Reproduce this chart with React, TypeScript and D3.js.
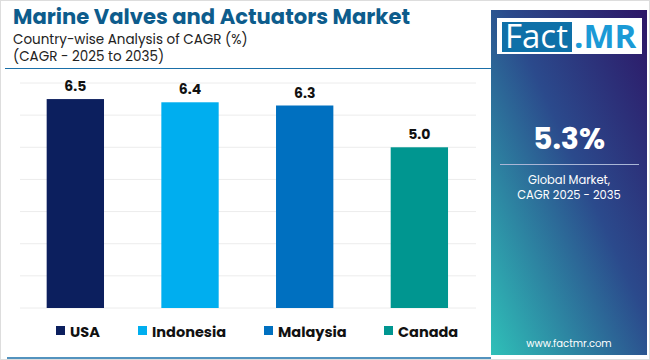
import React from "react";
import * as d3 from "d3";

const categories = ["USA", "Indonesia", "Malaysia", "Canada"];
const values = [6.5, 6.4, 6.3, 5.0];
const colors = ["#0c1f5e", "#00aeef", "#0070c0", "#009690"];
const yTicks = [0, 1, 2, 3, 4, 5, 6, 7];
const titleText = "Marine Valves and Actuators Market";
const subtitle1 = "Country-wise Analysis of CAGR (%)";
const subtitle2 = "(CAGR - 2025 to 2035)";
const globalValue = "5.3%";
const globalLabel1 = "Global Market,";
const globalLabel2 = "CAGR 2025 - 2035";
const website = "www.factmr.com";

export default function App() {
  const W = 650, H = 360;
  const x = d3.scaleBand<string>().domain(categories).range([18, 476.7]).paddingInner(0.5).paddingOuter(0.25);
  const y = d3.scaleLinear().domain([0, 7]).range([308, 83]);
  const legendX = [56, 138, 264, 384];
  const font = "Poppins, 'Open Sans', Roboto, sans-serif";
  return (
    <svg width={W} height={H} style={{ position: "absolute", left: 0, top: 0, background: "#fff" }} fontFamily={font}>
      <defs>
        <linearGradient id="pg" x1="1" y1="0" x2="0" y2="1">
          <stop offset="0" stopColor="#2d1666" />
          <stop offset="0.45" stopColor="#2b4a8c" />
          <stop offset="1" stopColor="#2fc0b8" />
        </linearGradient>
      </defs>
      <rect x={0.5} y={0.5} width={W - 1} height={H - 1} fill="#fff" stroke="#ddd" />
      <text x={13} y={24} fontSize={21} fontWeight={700} fill="#0d5c8c" textLength={397} lengthAdjust="spacingAndGlyphs">{titleText}</text>
      <text x={13} y={43.5} fontSize={13.5} fill="#222">{subtitle1}</text>
      <text x={13} y={61} fontSize={13.5} fill="#222">{subtitle2}</text>
      <line x1={5} x2={491} y1={68.5} y2={68.5} stroke="#1a6fa8" strokeWidth={1.2} />
      <line x1={7} x2={491} y1={358} y2={358} stroke="#1a6fa8" strokeWidth={1.5} />
      {yTicks.map((t) => (
        <line key={t} x1={20} x2={476} y1={y(t)} y2={y(t)} stroke="#ececec" strokeWidth={1} />
      ))}
      {categories.map((c, i) => (
        <g key={c}>
          <rect x={x(c)} y={y(values[i])} width={x.bandwidth()} height={y(0) - y(values[i])} fill={colors[i]} />
          <text x={(x(c) as number) + x.bandwidth() / 2} y={y(values[i]) - 8} textAnchor="middle" fontSize={14} fontWeight={700} fill="#111">{values[i].toFixed(1)}</text>
        </g>
      ))}
      {categories.map((c, i) => (
        <g key={"l" + c}>
          <rect x={legendX[i]} y={326} width={9} height={9} fill={colors[i]} />
          <text x={legendX[i] + 14} y={337} fontSize={14.5} fontWeight={700} fill="#111">{c}</text>
        </g>
      ))}
      <rect x={491} y={10} width={156} height={345} fill="url(#pg)" />
      <rect x={497} y={18} width={145} height={36} fill="#fff" />
      <rect x={502} y={22} width={70} height={30} fill="#0e70a8" />
      <text x={505} y={48} fontSize={33} fill="#fff" fontFamily="'Open Sans', sans-serif">Fact</text>
      <text x={574} y={48} fontSize={33} fontWeight={700} fill="#1b9ad6" fontFamily="'Open Sans', sans-serif">.MR</text>
      <text x={569} y={149} textAnchor="middle" fontSize={30} fontWeight={700} fill="#fff">{globalValue}</text>
      <line x1={500} x2={639} y1={164.5} y2={164.5} stroke="#aab6d6" strokeWidth={1.2} />
      <text x={569} y={184} textAnchor="middle" fontSize={11.5} fill="#fff">{globalLabel1}</text>
      <text x={569} y={199} textAnchor="middle" fontSize={11.5} fill="#fff">{globalLabel2}</text>
      <text x={569} y={347} textAnchor="middle" fontSize={10} fill="#fff">{website}</text>
    </svg>
  );
}
